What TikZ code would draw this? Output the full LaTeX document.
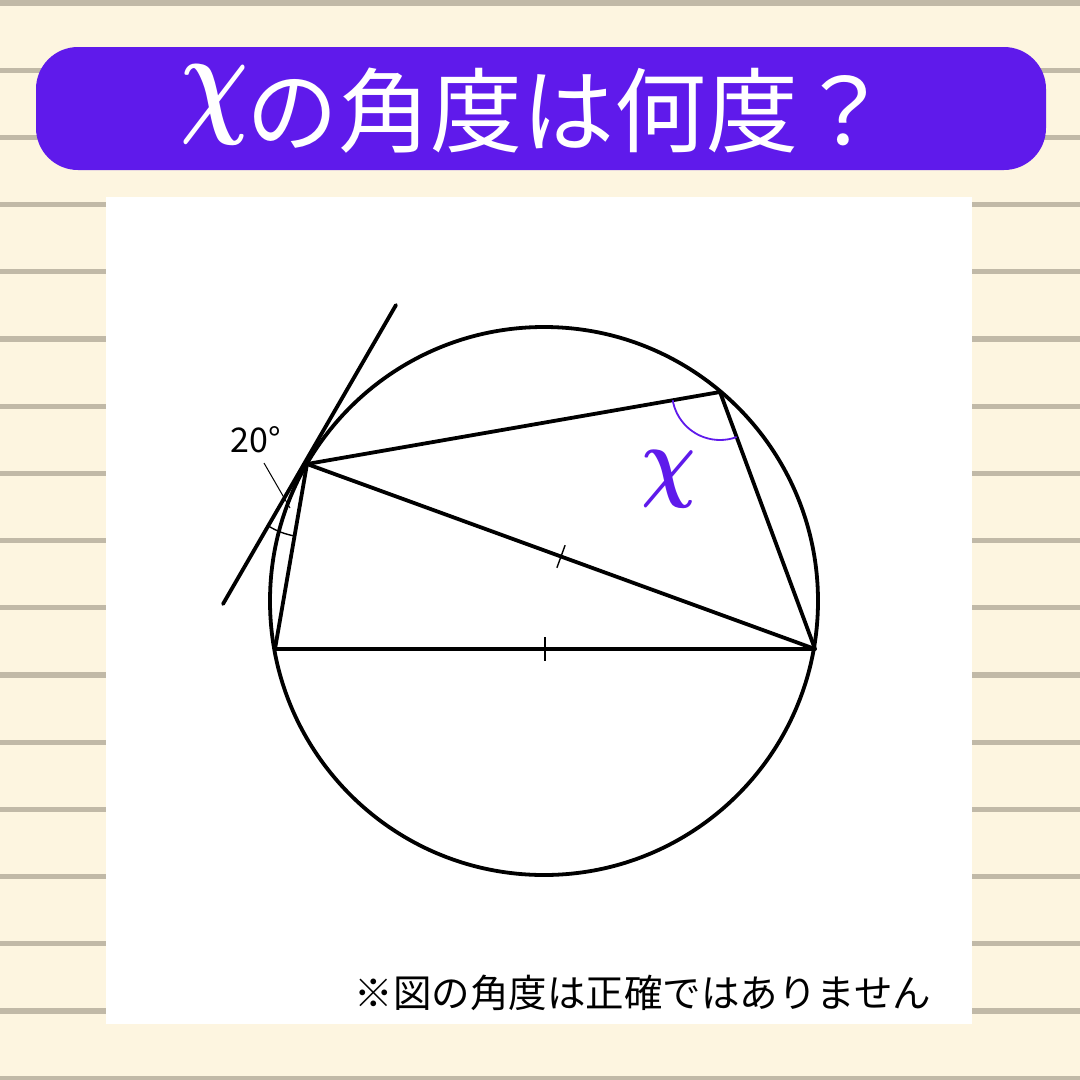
\documentclass[tikz,border=0pt]{standalone}
\usepackage{fontspec}
\usepackage{amsmath}
\newfontfamily\cjk{Noto Sans CJK JP}
\usetikzlibrary{calc,angles}
\definecolor{bgc}{HTML}{FDF5E0}
\definecolor{stripec}{HTML}{C1B9A7}
\definecolor{titlec}{HTML}{5F1AEB}
\definecolor{markc}{HTML}{5F1AEB}
\tikzset{
  geo/.style={line width=3.8pt, line cap=round, line join=round},
  tickmark/.style={line width=1.4pt},
  thinlead/.style={line width=1pt}
}
\begin{document}
\begin{tikzpicture}[x=1pt,y=-1pt]
\fill[bgc] (0,0) rectangle (1080,1080);
\useasboundingbox (0,0) rectangle (1080,1080);
\foreach \k in {0,...,16} \fill[stripec] (0,{3+67.2*\k-2.6}) rectangle (1080,{3+67.2*\k+2.6});
\fill[white] (106,197) rectangle (972,1024);
\fill[titlec, rounded corners=42pt] (36,47) rectangle (1046,170);
\node[text=white, inner sep=0] (titlechi) at (215,105)
  {\scalebox{9.5}[12.5]{$\boldsymbol{\chi}$}};
\node[text=white, inner sep=0, anchor=west] (title) at (246,111)
  {\cjk\fontsize{92}{92}\selectfont の角度は何度？};
% geometry
\coordinate (O) at (544,601);
\coordinate (A) at (307,464);
\coordinate (B) at (720,392);
\coordinate (C) at (815,649);
\coordinate (D) at (275,649);
\coordinate (T1) at (223,604);
\coordinate (T2) at (396,305);
\draw[geo] (O) circle (274);
\draw[geo] (T1) -- (T2);
\draw[geo] (A) -- (B) -- (C) -- (D) -- cycle;
\draw[geo] (A) -- (C);
% tick marks
\path (A) -- (C) coordinate[midway] (M1);
\path (D) -- (C) coordinate[midway] (M2);
\draw[tickmark] ($(M1)!12pt!90:(C)$) -- ($(M1)!12pt!-90:(C)$);
\draw[tickmark] ($(M2)!12pt!90:(C)$) -- ($(M2)!12pt!-90:(C)$);
% angle marks
\pic[draw, line width=1.4pt, angle radius=73pt] {angle = T1--A--D};
\pic[draw=markc, line width=1.8pt, angle radius=48pt] {angle = A--B--C};
% labels
\node[inner sep=0] (l20) at (256,440) {\cjk\fontsize{34}{34}\selectfont 20°};
\coordinate (L0) at (264,463);
\coordinate (L1) at (290,508);
\draw[thinlead] (L0) -- (L1);
\node[text=markc, inner sep=0] (lx) at (669,479) {\scalebox{7.6}[9]{$\boldsymbol{\chi}$}};
\node[inner sep=0] (note) at (643,993) {\cjk\fontsize{38.5}{38.5}\selectfont ※図の角度は正確ではありません};
\end{tikzpicture}
\end{document}
